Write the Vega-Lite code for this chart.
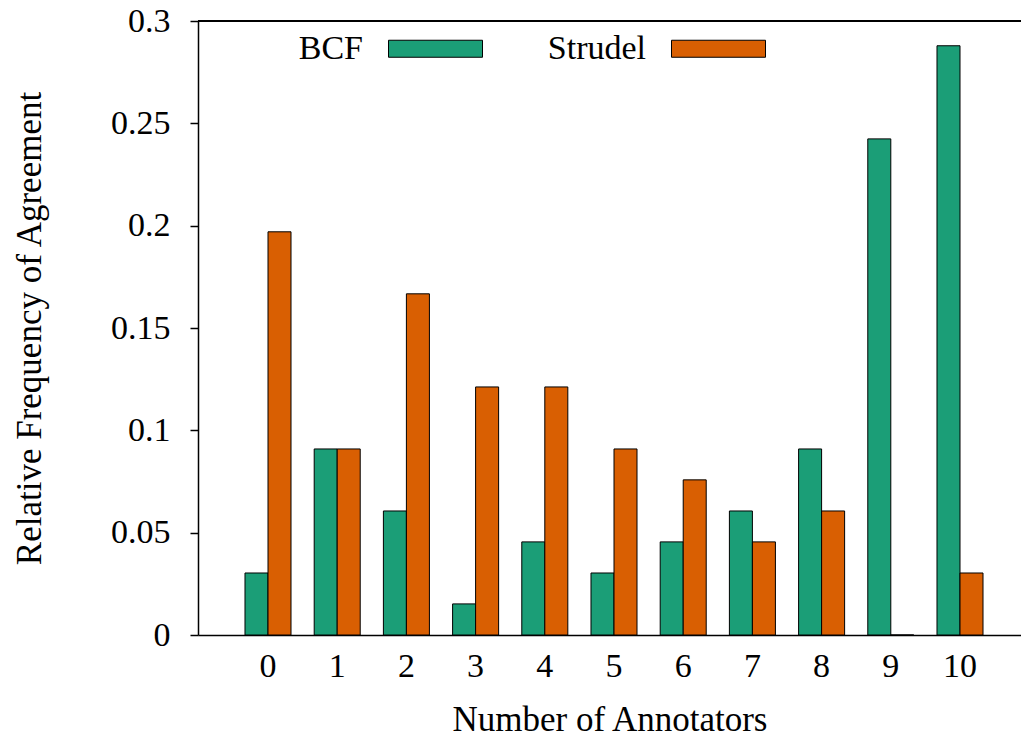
{
  "$schema": "https://vega.github.io/schema/vega-lite/v6.json",
  "width": 823,
  "height": 614,
  "autosize": {"type": "none"},
  "padding": {"left": 198, "top": 21, "right": 0, "bottom": 103},
  "background": "white",
  "config": {
    "view": {"stroke": null},
    "font": "Liberation Serif",
    "axis": {"labelFont": "Liberation Serif", "titleFont": "Liberation Serif", "labelColor": "black", "titleColor": "black", "domainColor": "black", "tickColor": "black", "titleFontWeight": "normal", "grid": false}
  },
  "data": {
    "values": [
      {"n": 0, "method": "BCF", "freq": 0.0303},
      {"n": 0, "method": "Strudel", "freq": 0.1970},
      {"n": 1, "method": "BCF", "freq": 0.0909},
      {"n": 1, "method": "Strudel", "freq": 0.0909},
      {"n": 2, "method": "BCF", "freq": 0.0606},
      {"n": 2, "method": "Strudel", "freq": 0.1667},
      {"n": 3, "method": "BCF", "freq": 0.0152},
      {"n": 3, "method": "Strudel", "freq": 0.1212},
      {"n": 4, "method": "BCF", "freq": 0.0455},
      {"n": 4, "method": "Strudel", "freq": 0.1212},
      {"n": 5, "method": "BCF", "freq": 0.0303},
      {"n": 5, "method": "Strudel", "freq": 0.0909},
      {"n": 6, "method": "BCF", "freq": 0.0455},
      {"n": 6, "method": "Strudel", "freq": 0.0758},
      {"n": 7, "method": "BCF", "freq": 0.0606},
      {"n": 7, "method": "Strudel", "freq": 0.0455},
      {"n": 8, "method": "BCF", "freq": 0.0909},
      {"n": 8, "method": "Strudel", "freq": 0.0606},
      {"n": 9, "method": "BCF", "freq": 0.2424},
      {"n": 9, "method": "Strudel", "freq": 0.0},
      {"n": 10, "method": "BCF", "freq": 0.2879},
      {"n": 10, "method": "Strudel", "freq": 0.0303}
    ]
  },
  "layer": [
    {
      "mark": {"type": "bar", "stroke": "black", "strokeWidth": 1},
      "encoding": {
        "x": {
          "field": "n", "type": "ordinal",
          "scale": {"paddingInner": 0.335, "paddingOuter": 0.614, "align": 0.553},
          "axis": {"title": "Number of Annotators", "labelAngle": 0, "labelFontSize": 34, "titleFontSize": 35, "tickSize": 0, "labelPadding": 14, "titlePadding": 19, "domainWidth": 1.5}
        },
        "xOffset": {"field": "method", "type": "nominal", "scale": {"paddingInner": 0, "paddingOuter": 0}},
        "y": {
          "field": "freq", "type": "quantitative",
          "scale": {"domain": [0, 0.3], "nice": false, "zero": true},
          "axis": {"title": "Relative Frequency of Agreement", "values": [0, 0.05, 0.1, 0.15, 0.2, 0.25, 0.3], "format": "~g", "labelFontSize": 34, "titleFontSize": 35, "tickSize": 8, "tickWidth": 1.5, "labelPadding": 20, "titlePadding": 63, "domainWidth": 1.5}
        },
        "color": {
          "field": "method", "type": "nominal",
          "scale": {"domain": ["BCF", "Strudel"], "range": ["#1b9e77", "#d95f02"]},
          "legend": {
            "title": null, "orient": "none", "legendX": 190, "legendY": -20,
            "direction": "horizontal", "columns": 2,
            "symbolType": "M-1,-0.181H1V0.181H-1Z", "symbolSize": 8836,
            "symbolStrokeColor": "black", "symbolStrokeWidth": 1, "symbolOpacity": 1,
            "labelAlign": "right", "labelOffset": -120, "labelFontSize": 34,
            "labelFont": "Liberation Serif", "labelColor": "black", "labelLimit": 300,
            "columnPadding": 62
          }
        }
      }
    },
    {
      "mark": {"type": "rule", "stroke": "black", "strokeWidth": 1.5},
      "encoding": {"y": {"datum": 0.3}}
    }
  ]
}
